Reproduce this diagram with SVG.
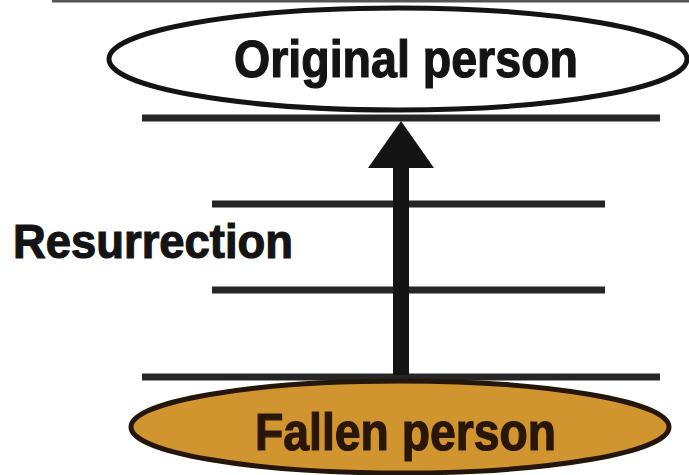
<svg xmlns="http://www.w3.org/2000/svg" width="689" height="475" viewBox="0 0 689 475">
<style>
.ln{stroke:#262626;stroke-width:7;fill:none}
.lbl{font-family:"Liberation Sans",Arial,sans-serif;font-weight:bold;fill:#141414;stroke:#141414;stroke-width:1.2;lengthAdjust:spacingAndGlyphs}
</style>
<rect width="689" height="475" fill="#ffffff"/>
<line x1="52" y1="1" x2="689" y2="1" stroke="#555" stroke-width="3"/>
<g id="connectors">
<line class="ln" x1="142" y1="118" x2="660" y2="118"/>
<line class="ln" x1="212" y1="204" x2="605" y2="204"/>
<line class="ln" x1="212" y1="290" x2="605" y2="290"/>
<line class="ln" x1="142" y1="377" x2="660" y2="377"/>
<rect x="393" y="165" width="16" height="210" fill="#141414"/>
<polygon points="401,121 368,168 434,168" fill="#141414"/>
</g>
<g id="original">
<ellipse cx="398" cy="59" rx="289" ry="51" fill="#ffffff" stroke="#141414" stroke-width="5"/>
<text class="lbl" x="234" y="77" font-size="51" textLength="344" lengthAdjust="spacingAndGlyphs">Original person</text>
</g>
<g id="fallen">
<ellipse cx="400" cy="427" rx="269" ry="46" fill="#d0952e" stroke="#24160a" stroke-width="5"/>
<text x="255" y="450" font-size="51" textLength="301" lengthAdjust="spacingAndGlyphs" style="font-family:'Liberation Sans',Arial,sans-serif;font-weight:bold;fill:#2a1606;stroke:#2a1606;stroke-width:1.2">Fallen person</text>
</g>
<g id="resurrection">
<text class="lbl" x="13" y="258" font-size="49" textLength="280" lengthAdjust="spacingAndGlyphs">Resurrection</text>
</g>
</svg>
